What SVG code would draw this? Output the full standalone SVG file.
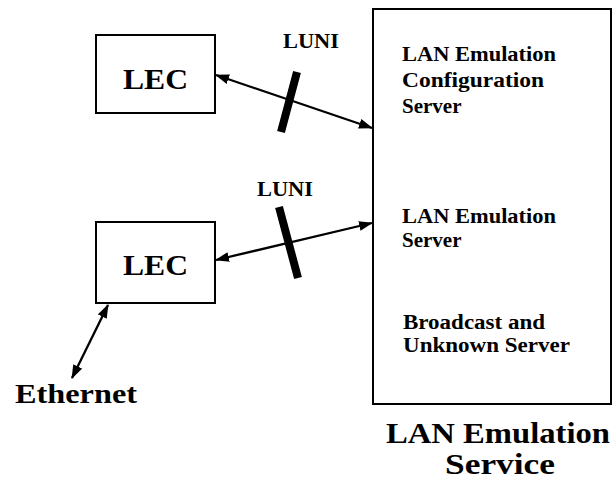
<svg xmlns="http://www.w3.org/2000/svg" width="613" height="480" viewBox="0 0 613 480">
<style>
.box{fill:#fff;stroke:#000;stroke-width:2}
.t{font-family:'Liberation Serif',Tinos,'Times New Roman',Times,'DejaVu Serif','Noto Serif',serif;font-weight:700;fill:#000}
.conn{stroke:#000;stroke-width:2.3;fill:none;marker-start:url(#ah);marker-end:url(#ah)}
.bar{stroke:#000;stroke-width:8;stroke-linecap:butt}
</style>
<defs>
<marker id="ah" viewBox="0 0 14 10" refX="13" refY="5" markerWidth="14" markerHeight="10" markerUnits="userSpaceOnUse" orient="auto-start-reverse">
<path d="M0,0 L14,5 L0,10 Z" fill="#000"/>
</marker>
</defs>
<rect width="613" height="480" fill="#fff"/>
<g id="les">
<rect class="box" x="373" y="9" width="238" height="395"/>
<text class="t" x="402" y="61" font-size="21" textLength="154" lengthAdjust="spacingAndGlyphs">LAN Emulation</text>
<text class="t" x="402" y="87" font-size="21" textLength="142" lengthAdjust="spacingAndGlyphs">Configuration</text>
<text class="t" x="402" y="113" font-size="21">Server</text>
<text class="t" x="402" y="223" font-size="21" textLength="154" lengthAdjust="spacingAndGlyphs">LAN Emulation</text>
<text class="t" x="402" y="247" font-size="21">Server</text>
<text class="t" x="403" y="329" font-size="20" textLength="142" lengthAdjust="spacingAndGlyphs">Broadcast and</text>
<text class="t" x="403" y="352" font-size="20" textLength="167" lengthAdjust="spacingAndGlyphs">Unknown Server</text>
</g>
<g id="service-label">
<text class="t" x="498" y="443" font-size="29" text-anchor="middle" textLength="224" lengthAdjust="spacingAndGlyphs">LAN Emulation</text>
<text class="t" x="500" y="474" font-size="29" text-anchor="middle" textLength="110" lengthAdjust="spacingAndGlyphs">Service</text>
</g>
<g id="lec1">
<rect class="box" x="96" y="35" width="119" height="78"/>
<text class="t" x="155.5" y="89" font-size="30" text-anchor="middle" textLength="65" lengthAdjust="spacingAndGlyphs">LEC</text>
</g>
<g id="lec2">
<rect class="box" x="96" y="222" width="119" height="81"/>
<text class="t" x="155.5" y="275" font-size="30" text-anchor="middle" textLength="65" lengthAdjust="spacingAndGlyphs">LEC</text>
</g>
<g id="ethernet">
<text class="t" x="15" y="403" font-size="28" textLength="122" lengthAdjust="spacingAndGlyphs">Ethernet</text>
</g>
<g id="connectors">
<line class="conn" x1="216" y1="75" x2="372" y2="128"/>
<line class="conn" x1="216" y1="260" x2="372" y2="223"/>
<line class="conn" x1="108" y1="305" x2="72" y2="378"/>
<line class="bar" x1="297" y1="72" x2="281" y2="132"/>
<line class="bar" x1="279" y1="207" x2="298" y2="278"/>
<text class="t" x="311" y="48" font-size="20" text-anchor="middle" textLength="56" lengthAdjust="spacingAndGlyphs">LUNI</text>
<text class="t" x="285" y="196" font-size="20" text-anchor="middle" textLength="56" lengthAdjust="spacingAndGlyphs">LUNI</text>
</g>
</svg>
